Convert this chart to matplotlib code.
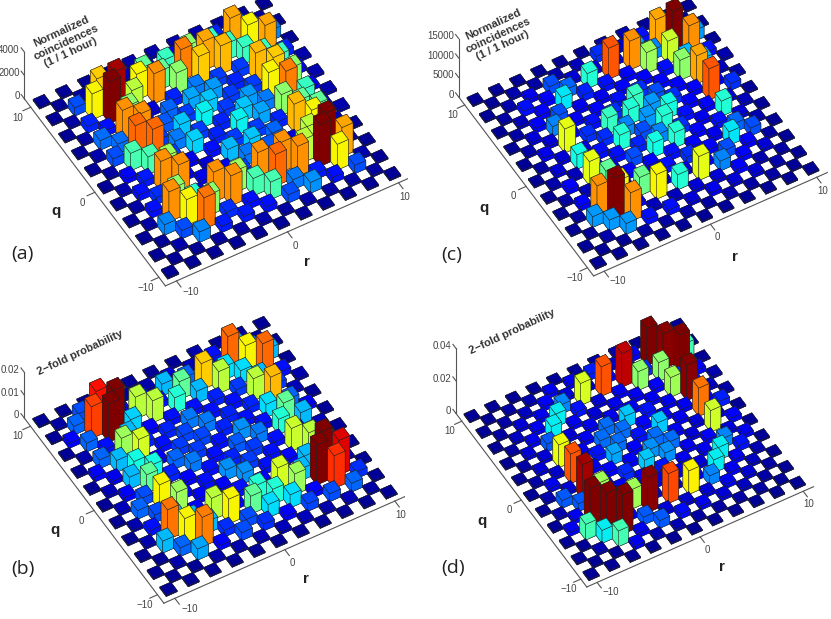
"""Four 3D bar panels of two-photon correlations on the (q, r) lattice."""
import matplotlib
matplotlib.use("Agg")
import matplotlib.pyplot as plt
import numpy as np
from mpl_toolkits.mplot3d import proj3d

W, H = 831, 619

# Each row is one anti-diagonal of the lattice, far corner first.
# Row i holds a = 10 - i, entries run d = +m ... -m, with r = a - d, q = a + d.
# Values are percent of the panel's peak.
a_rows = [
    [3],
    [3, 3, 3],
    [3, 25, 20, 25, 3],
    [5, 16, 70, 62, 70, 16, 5],
    [5, 10, 40, 40, 40, 40, 40, 10, 5],
    [5, 10, 50, 70, 68, 18, 68, 66, 50, 10, 5],
    [5, 6, 40, 74, 66, 18, 16, 18, 62, 74, 40, 6, 5],
    [3, 5, 45, 45, 50, 24, 27, 18, 27, 24, 50, 45, 45, 5, 3],
    [3, 4, 8, 62, 72, 16, 28, 31, 18, 31, 28, 16, 68, 62, 8, 4, 3],
    [3, 4, 66, 92, 55, 8, 22, 18, 35, 16, 35, 18, 22, 8, 55, 95, 70, 5, 3],
    [3, 3, 20, 62, 100, 50, 14, 21, 31, 18, 16, 18, 31, 21, 14, 55, 100, 62, 20, 4, 3],
    [3, 4, 16, 14, 72, 72, 18, 24, 32, 14, 30, 24, 18, 72, 72, 15, 14, 4, 3],
    [3, 4, 23, 23, 76, 76, 18, 10, 8, 10, 18, 72, 76, 24, 26, 4, 3],
    [3, 5, 20, 42, 42, 52, 10, 10, 10, 52, 42, 42, 20, 5, 3],
    [3, 4, 12, 15, 72, 72, 8, 72, 72, 14, 14, 4, 3],
    [3, 5, 14, 17, 50, 38, 50, 17, 15, 5, 3],
    [3, 4, 14, 72, 62, 75, 15, 4, 3],
    [3, 4, 25, 20, 25, 4, 3],
    [3, 3, 5, 3, 3],
    [3, 3, 3],
    [3],
]
b_rows = [
    [3],
    [3, 3, 3],
    [3, 28, 22, 30, 3],
    [5, 14, 76, 62, 76, 14, 5],
    [3, 6, 18, 33, 33, 30, 18, 6, 3],
    [3, 8, 22, 66, 55, 18, 55, 68, 22, 10, 3],
    [3, 5, 30, 45, 30, 16, 14, 16, 33, 45, 30, 6, 3],
    [3, 5, 14, 14, 38, 14, 14, 16, 14, 14, 38, 14, 12, 5, 3],
    [3, 5, 12, 55, 55, 14, 24, 24, 16, 26, 24, 14, 57, 55, 12, 5, 3],
    [3, 20, 85, 96, 32, 12, 16, 19, 19, 14, 21, 18, 14, 12, 30, 100, 87, 17, 3],
    [3, 4, 22, 80, 96, 30, 16, 14, 18, 18, 14, 16, 18, 14, 16, 30, 100, 82, 22, 4, 3],
    [3, 12, 22, 14, 52, 58, 12, 22, 24, 14, 26, 26, 12, 58, 52, 12, 20, 6, 3],
    [3, 5, 22, 30, 36, 36, 16, 12, 14, 12, 14, 38, 38, 33, 19, 5, 3],
    [3, 12, 10, 30, 45, 12, 12, 12, 12, 12, 45, 33, 12, 6, 3],
    [3, 6, 12, 20, 62, 52, 12, 55, 62, 20, 17, 6, 3],
    [3, 6, 22, 20, 30, 30, 30, 17, 20, 6, 3],
    [3, 5, 14, 75, 62, 74, 12, 5, 3],
    [3, 5, 30, 22, 28, 5, 3],
    [3, 3, 5, 3, 3],
    [3, 3, 3],
    [3],
]
c_rows = [
    [3],
    [3, 3, 3],
    [3, 27, 27, 27, 3],
    [5, 14, 70, 100, 72, 14, 5],
    [4, 6, 28, 25, 57, 30, 30, 6, 4],
    [3, 17, 8, 72, 52, 14, 50, 70, 10, 17, 3],
    [3, 6, 8, 78, 12, 12, 12, 12, 12, 78, 8, 6, 3],
    [3, 5, 8, 38, 14, 12, 17, 20, 17, 12, 12, 38, 8, 5, 3],
    [3, 4, 20, 22, 16, 10, 14, 40, 27, 36, 14, 10, 14, 22, 20, 4, 3],
    [3, 5, 10, 12, 34, 10, 12, 17, 38, 27, 38, 17, 12, 10, 34, 12, 8, 4, 3],
    [3, 3, 5, 14, 12, 20, 10, 14, 40, 25, 20, 25, 38, 12, 12, 20, 12, 5, 5, 3, 3],
    [3, 4, 6, 12, 25, 10, 17, 17, 38, 16, 36, 14, 17, 10, 25, 12, 8, 4, 3],
    [3, 4, 8, 8, 60, 9, 14, 14, 20, 12, 14, 9, 60, 8, 8, 4, 3],
    [3, 5, 10, 8, 36, 8, 10, 12, 10, 8, 38, 8, 10, 5, 3],
    [3, 4, 8, 6, 60, 45, 10, 46, 62, 6, 8, 4, 3],
    [3, 5, 12, 6, 10, 62, 10, 6, 14, 5, 3],
    [3, 4, 12, 72, 100, 72, 14, 4, 3],
    [3, 4, 27, 27, 27, 4, 3],
    [3, 3, 5, 3, 3],
    [3, 3, 3],
    [3],
]
d_rows = [
    [3],
    [3, 3, 3],
    [3, 40, 33, 40, 3],
    [5, 12, 95, 90, 95, 12, 5],
    [4, 6, 14, 16, 48, 16, 14, 6, 4],
    [3, 15, 10, 86, 48, 12, 50, 90, 10, 15, 3],
    [3, 10, 8, 75, 10, 10, 10, 10, 10, 72, 8, 12, 3],
    [3, 10, 8, 56, 8, 10, 10, 14, 10, 10, 8, 55, 8, 10, 3],
    [3, 5, 12, 24, 14, 8, 10, 30, 12, 30, 10, 8, 12, 24, 14, 5, 3],
    [3, 4, 6, 10, 33, 10, 10, 22, 22, 14, 22, 22, 10, 10, 33, 10, 6, 4, 3],
    [3, 3, 4, 8, 10, 33, 8, 10, 22, 22, 12, 25, 25, 10, 8, 33, 10, 8, 4, 3, 3],
    [3, 4, 6, 10, 20, 10, 10, 14, 27, 12, 30, 14, 10, 10, 24, 10, 6, 4, 3],
    [3, 4, 8, 8, 58, 8, 10, 12, 16, 12, 10, 8, 60, 8, 8, 4, 3],
    [3, 4, 8, 7, 75, 8, 10, 10, 10, 8, 76, 7, 10, 4, 3],
    [3, 4, 10, 8, 88, 50, 10, 50, 90, 8, 13, 4, 3],
    [3, 5, 20, 20, 10, 10, 10, 20, 20, 5, 3],
    [3, 5, 10, 100, 96, 100, 10, 5, 3],
    [3, 10, 40, 33, 40, 10, 3],
    [3, 3, 5, 3, 3],
    [3, 3, 3],
    [3],
]

a_ticks = [0, 2000, 4000]
b_ticks = [0, 0.01, 0.02]
c_ticks = [0, 5000, 10000, 15000]
d_ticks = [0, 0.02, 0.04]
lattice_ticks = [-10, 0, 10]

ELEV, AZIM = 50, -120
TICK_COL = "#444444"
AXIS_COL = "#555555"


def to_px(ax, r, q, z):
    x2, y2, _ = proj3d.proj_transform(r, q, z, ax.get_proj())
    return ax.transData.transform((x2, y2))


def place(ax, cx, cy, scale):
    # size and shift the square axes so (0, 0, 0) lands on pixel (cx, cy)
    side = 400.0
    ax.set_position([0.1, 0.1, side / W, side / H])
    ax.apply_aspect()
    got = abs(to_px(ax, 1, 0, 0)[0] - to_px(ax, 0, 0, 0)[0])
    side *= scale * np.sin(np.radians(60)) / got
    ax.set_position([0.1, 0.1, side / W, side / H])
    ax.apply_aspect()
    p0 = to_px(ax, 0, 0, 0)
    left = 0.1 * W + cx - p0[0]
    bottom = 0.1 * H + (H - cy) - p0[1]
    ax.set_position([left / W, bottom / H, side / W, side / H])
    ax.apply_aspect()


def panel(fig, rows, peak_z, ticks, z_px, cx, cy, scale, color_top=0.94):
    ax = fig.add_axes([0, 0, 1, 1], projection="3d", computed_zorder=False)
    ax.set_proj_type("ortho")
    ax.view_init(elev=ELEV, azim=AZIM)
    ax.set_xlim(-11, 11)
    ax.set_ylim(-11, 11)
    ax.set_zlim(0, ticks[-1])
    ax.set_box_aspect((22, 22, z_px / (scale * np.cos(np.radians(ELEV)))))
    ax.set_xticks([])
    ax.set_yticks([])
    ax.set_zticks([])
    ax.set_axis_off()
    ax.patch.set_visible(False)
    place(ax, cx, cy, scale)

    jet = plt.get_cmap("jet")
    for i, row in enumerate(rows):
        a = 10 - i
        m = (len(row) - 1) // 2
        for j, v in enumerate(row):
            d = m - j
            r, q = a - d, a + d
            depth = 0.5 * r + 0.866 * q
            ax.bar3d(r - 0.5, q - 0.5, 0, 1, 1, v / 100 * peak_z,
                     color=jet(min((v - 1) / 100 / color_top, 1.0)), shade=False,
                     edgecolor="#222222", linewidth=0.35, zorder=100 - depth)

    line = dict(color=AXIS_COL, lw=0.8, zorder=-50)
    ax.plot([-11, -11], [11, -11], [0, 0], **line)
    ax.plot([-11, 11], [-11, -11], [0, 0], **line)
    ax.plot([-11, -11], [11, 11], [0, ticks[-1]], **line)
    txt = dict(color=TICK_COL, fontsize=7, family="Liberation Sans",
               ha="center", va="center", zorder=200)
    r_nudge = {-10: 0.45, 0: -0.2, 10: -0.3}
    for t in lattice_ticks:
        ax.plot([-11, -11.7], [t, t], [0, 0], **line)
        ax.plot([t, t], [-11, -11.7], [0, 0], **line)
        ax.text(-12.4, t - 0.4, 0, f"{t}".replace("-", "\u2212"), **txt)
        ax.text(t + r_nudge[t], -12.5, 0, f"{t}".replace("-", "\u2212"), **txt)
    txt["ha"] = "right"
    for z in ticks:
        ax.plot([-11, -11], [11, 11.5], [z, z], **line)
        ax.text(-11.2, 11.4, z, f"{z:g}", **txt)
    return ax


def label(fig, x, y, s, **kw):
    fig.text(x / W, 1 - y / H, s, ha="center", va="center", **kw)


fig = plt.figure(figsize=(W / 100, H / 100), dpi=100)
fig.patch.set_facecolor("white")

panel(fig, a_rows, 3570, a_ticks, 46.7, 217, 138.3, 12.82)
panel(fig, c_rows, 10290, c_ticks, 58.3, 643, 134.7, 12.27)
panel(fig, b_rows, 0.0175, b_ticks, 45.7, 215, 457, 12.7)
panel(fig, d_rows, 0.0242, d_ticks, 65.0, 634.7, 450, 11.9, color_top=0.9)

axis_font = dict(fontsize=11, fontweight="bold", family="Liberation Sans", color="#222222")
for x, y, s in [(56, 211, "q"), (307, 262, "r"), (55, 530, "q"), (306, 579, "r"),
                (484, 208, "q"), (735, 257, "r"), (482, 521, "q"), (722, 567, "r")]:
    label(fig, x, y, s, **axis_font)

tag_font = dict(fontsize=14, family="Open Sans", color="#222222")
for x, y, s in [(22, 254, "(a)"), (23, 569, "(b)"), (452, 255, "(c)"), (453, 568, "(d)")]:
    label(fig, x, y, s, **tag_font)

side_font = dict(fontsize=8, fontweight="bold", family="Liberation Sans", color="#333333",
                 rotation=25, rotation_mode="anchor", linespacing=1.25)
counts = "Normalized\ncoincidences\n(1 / 1 hour)"
label(fig, 66, 42, counts, **side_font)
label(fig, 498, 35, counts, **side_font)
label(fig, 80, 353, "2\u2212fold probability", **side_font)
label(fig, 512, 332, "2\u2212fold probability", **side_font)

fig.savefig("out.png", dpi=100)
